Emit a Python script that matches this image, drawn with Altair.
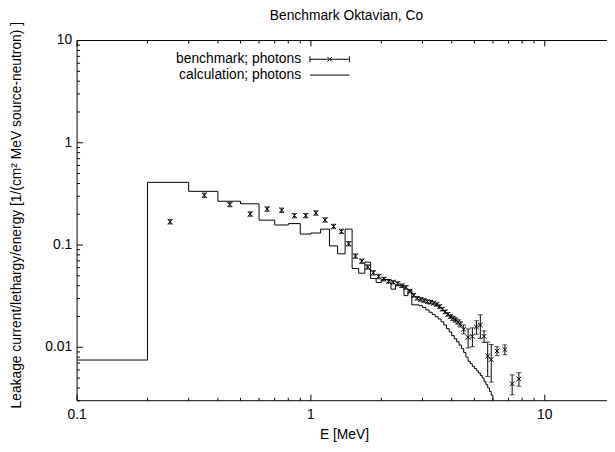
import altair as alt
import pandas as pd

FONT = "Liberation Sans"
FS = 14

# ---- calculation (histogram, bin edges and bin values) ----
calc_edges = [0.1, 0.2, 0.3, 0.4, 0.5, 0.6, 0.7, 0.8, 0.9, 1.0, 1.1, 1.2, 1.3, 1.4, 1.5,
              1.6, 1.7, 1.8, 1.9, 2.0, 2.2, 2.3, 2.5, 2.6, 2.7, 2.9, 3.0, 3.1, 3.2, 3.3,
              3.4, 3.5, 3.6, 3.7, 3.8, 3.9, 4.0, 4.1, 4.2, 4.3, 4.4, 4.5, 4.6, 4.7, 4.8,
              4.9, 5.0, 5.1, 5.2, 5.3, 5.4, 5.5, 5.6, 5.7, 5.8, 5.9, 6.0]
calc_values = [0.0075, 0.41, 0.335, 0.268, 0.253, 0.175, 0.157, 0.162, 0.128, 0.131,
               0.143, 0.098, 0.082, 0.143, 0.059, 0.053, 0.068, 0.047, 0.043, 0.046,
               0.037, 0.040, 0.032, 0.036, 0.026,
               0.0255, 0.0245, 0.0232, 0.0220, 0.0209, 0.0199, 0.0189, 0.0177, 0.0165,
               0.0152, 0.0141, 0.0130, 0.0121, 0.0113, 0.0105, 0.0097, 0.0089, 0.0080,
               0.0073, 0.0069, 0.0065, 0.0062, 0.0059, 0.0056, 0.0053, 0.0050, 0.0046,
               0.0043, 0.0040, 0.0037, 0.0034]
calc_floor = 0.001  # value after last edge (drops off the axis)

# ---- benchmark (points with y error bars) ----
bench_E = [0.25, 0.35, 0.45, 0.55, 0.65, 0.75, 0.85, 0.95, 1.05, 1.15, 1.25, 1.35, 1.45,
           1.55, 1.65, 1.75, 1.85, 1.95, 2.05, 2.15, 2.25, 2.35, 2.45, 2.55, 2.65, 2.75,
           2.85, 2.95, 3.05, 3.15, 3.25, 3.35, 3.45, 3.55, 3.65, 3.75, 3.85, 3.95, 4.05,
           4.15, 4.25, 4.35, 4.5, 4.7, 4.9, 5.1, 5.3, 5.5, 5.7, 5.9, 6.25, 6.75, 7.25, 7.75]
bench_V = [0.169, 0.307, 0.249, 0.201, 0.225, 0.219, 0.194, 0.194, 0.206, 0.176, 0.152,
           0.136, 0.103, 0.078, 0.0695, 0.061, 0.0535, 0.0492, 0.0464, 0.0441, 0.0433,
           0.0420, 0.0400, 0.0385, 0.0354, 0.0322, 0.0302, 0.0294, 0.0287, 0.0280, 0.0276,
           0.0270, 0.0262, 0.0250, 0.0236, 0.0222, 0.0210, 0.0200, 0.0192, 0.0185, 0.0177,
           0.0168, 0.0150, 0.0125, 0.0128, 0.0158, 0.0165, 0.0128, 0.0082, 0.0076, 0.0092,
           0.0095, 0.0044, 0.0049]
bench_relerr = [0.05, 0.05, 0.05, 0.05, 0.05, 0.05, 0.05, 0.05, 0.05, 0.05, 0.05, 0.05,
                0.05, 0.05, 0.05, 0.05, 0.05, 0.05, 0.04, 0.04, 0.04, 0.04, 0.04, 0.04,
                0.04, 0.04, 0.04, 0.04, 0.04, 0.04, 0.04, 0.04, 0.04, 0.04, 0.04, 0.04,
                0.04, 0.04, 0.05, 0.05, 0.05, 0.06, 0.10, 0.21, 0.21, 0.15, 0.26, 0.13,
                0.37, 0.40, 0.10, 0.11, 0.22, 0.15]

# ---- ticks and tick labels ----
x_major = [0.1, 1, 10]
x_major_labels = ["0.1", "1", "10"]
x_minor = [0.2, 0.3, 0.4, 0.5, 0.6, 0.7, 0.8, 0.9, 2, 3, 4, 5, 6, 7, 8, 9]
y_major = [0.01, 0.1, 1, 10]
y_major_labels = ["0.01", "0.1", "1", "10"]
y_minor = [0.003, 0.004, 0.005, 0.006, 0.007, 0.008, 0.009,
           0.02, 0.03, 0.04, 0.05, 0.06, 0.07, 0.08, 0.09,
           0.2, 0.3, 0.4, 0.5, 0.6, 0.7, 0.8, 0.9,
           2, 3, 4, 5, 6, 7, 8, 9]

W, H = 537, 365
XPATH = "M-1,-1L1,1M-1,1L1,-1"

df_calc = pd.DataFrame({"E": calc_edges, "V": calc_values + [calc_floor]})
df_b = pd.DataFrame({"E": bench_E, "V": bench_V, "r": bench_relerr})
df_b["lo"] = df_b["V"] * (1 - df_b["r"])
df_b["hi"] = df_b["V"] * (1 + df_b["r"])

xs = alt.Scale(type="log", domain=[0.1, 18.45], nice=False)
ys = alt.Scale(type="log", domain=[0.003, 10], nice=False)

one = pd.DataFrame({"a": [0]})

calc = alt.Chart(df_calc).mark_line(
    interpolate="step-after", color="black", strokeWidth=1, clip=True
).encode(
    x=alt.X("E:Q", scale=xs, axis=None),
    y=alt.Y("V:Q", scale=ys, axis=None),
)

errb = alt.Chart(df_b).mark_errorbar(
    ticks={"size": 5}, color="black", thickness=1
).encode(
    x=alt.X("E:Q", scale=xs, axis=None),
    y=alt.Y("lo:Q", scale=ys, axis=None),
    y2="hi:Q",
)

pts = alt.Chart(df_b).mark_point(
    shape=XPATH, size=22, filled=False, color="black", strokeWidth=1, opacity=1
).encode(
    x=alt.X("E:Q", scale=xs, axis=None),
    y=alt.Y("V:Q", scale=ys, axis=None),
)


def rule(x1, x2, y1, y2):
    return alt.Chart(one).mark_rule(color="black", strokeWidth=1).encode(
        x=alt.value(x1), x2=alt.value(x2), y=alt.value(y1), y2=alt.value(y2))


def xticks(vals, ln):
    d = pd.DataFrame({"t": vals})
    bot = alt.Chart(d).mark_rule(color="black", strokeWidth=1).encode(
        x=alt.X("t:Q", scale=xs, axis=None), y=alt.value(H), y2=alt.value(H - ln))
    top = alt.Chart(d).mark_rule(color="black", strokeWidth=1).encode(
        x=alt.X("t:Q", scale=xs, axis=None), y=alt.value(0), y2=alt.value(ln))
    return [bot, top]


def yticks(vals, ln):
    d = pd.DataFrame({"t": vals})
    return [alt.Chart(d).mark_rule(color="black", strokeWidth=1).encode(
        y=alt.Y("t:Q", scale=ys, axis=None), x=alt.value(0), x2=alt.value(ln))]


ticks = xticks(x_major, 6) + xticks(x_minor, 3) + yticks(y_major, 6) + yticks(y_minor, 3)

frame = [rule(0, W, 0, 0), rule(0, W, H, H), rule(0, 0, 0, H)]

xlab = alt.Chart(pd.DataFrame({"t": x_major, "s": x_major_labels})).mark_text(
    align="center", baseline="middle", font=FONT, fontSize=FS, color="black"
).encode(x=alt.X("t:Q", scale=xs, axis=None), y=alt.value(H + 15), text="s:N")

ylab = alt.Chart(pd.DataFrame({"t": y_major, "s": y_major_labels})).mark_text(
    align="right", baseline="middle", font=FONT, fontSize=FS, color="black"
).encode(y=alt.Y("t:Q", scale=ys, axis=None), x=alt.value(-5), text="s:N")


def text(s, x, y, align="center", angle=0):
    kw = dict(align=align, baseline="middle", font=FONT, fontSize=FS, color="black")
    if angle:
        kw["angle"] = angle
    return alt.Chart(one).mark_text(text=s, **kw).encode(x=alt.value(x), y=alt.value(y))


title = text("Benchmark Oktavian, Co", 273, -25)
xtitle = text("E [MeV]", 271, 400)
ytitle = text("Leakage current/lethargy/energy [1/(cm² MeV source-neutron) ]", -61, 177, angle=270)

leg1 = text("benchmark; photons", 227, 19, align="right")
leg2 = text("calculation; photons", 227, 35, align="right")

leg_err = [rule(236, 276, 19, 19), rule(236, 236, 16, 22), rule(276, 276, 16, 22)]
leg_pt = alt.Chart(one).mark_point(
    shape=XPATH, size=22, filled=False, color="black", strokeWidth=1, opacity=1
).encode(x=alt.value(256), y=alt.value(19))
leg_line = rule(236, 276, 35, 35)

chart = alt.layer(
    calc, errb, pts, *ticks, *frame, xlab, ylab, title, xtitle, ytitle,
    leg1, leg2, *leg_err, leg_pt, leg_line
).properties(
    width=W, height=H,
    padding={"left": 70, "top": 30, "right": 0, "bottom": 49},
    autosize=alt.AutoSizeParams(type="none"),
    background="white",
).configure_view(stroke=None)

chart.save("out.html", embed_options={"renderer": "svg", "actions": False})
